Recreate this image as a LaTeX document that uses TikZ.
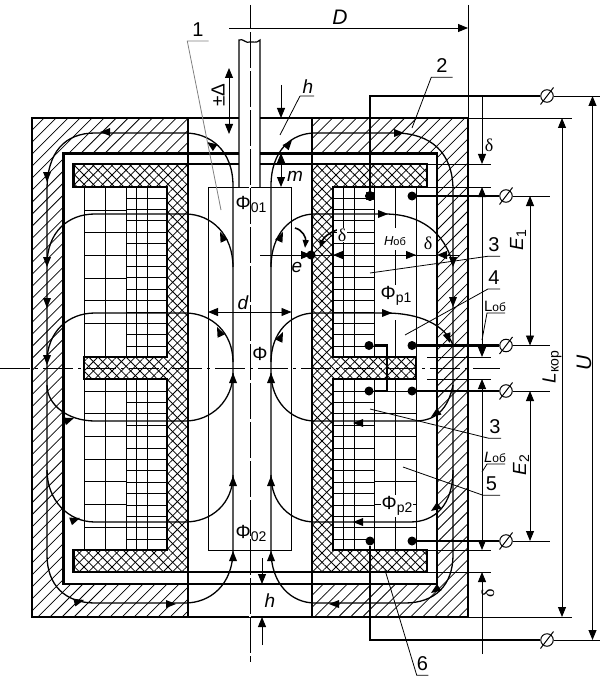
\documentclass[tikz,border=0pt]{standalone}
\usepackage{fontspec}
\setmainfont{Liberation Sans}
\newfontfamily\deltafont{Liberation Serif}
\usetikzlibrary{arrows.meta,patterns.meta,positioning}
\newcommand{\fluxtip}[3]{\fill[shift={(#1,#2)},rotate=#3] (0,0) -- (-10,4) -- (-10,-4) -- cycle;}
\newcommand{\lowtext}[1]{\raisebox{-3pt}{\fontsize{14}{14}\selectfont #1}}
\tikzset{
	body/.style={line width=2.7pt},
	heavy/.style={line width=2.2pt},
	wire/.style={line width=2.4pt},
	flux/.style={line width=1.3pt},
	thin line/.style={line width=.9pt},
	grid line/.style={line width=1pt},
	leader/.style={line width=.8pt},
	hatchfill/.style={pattern={Lines[angle=45,distance=8.5pt,line width=.75pt]}},
	crossa/.style={pattern={Lines[angle=45,distance=6.6pt,line width=.8pt]}},
	crossb/.style={pattern={Lines[angle=-45,distance=6.6pt,line width=.8pt]}},
	wiredot/.style={circle,fill,inner sep=0,minimum size=9pt},
	term/.style={circle,draw,line width=1pt,fill=white,inner sep=0,minimum size=12.5pt},
	numlab/.style={inner ysep=4pt,inner xsep=0,font=\fontsize{20}{22}\selectfont},
	lab/.style={inner sep=0,font=\fontsize{19}{20}\selectfont},
	itlab/.style={inner sep=0,font=\fontsize{19}{20}\selectfont\itshape},
	dlab/.style={inner sep=0,font=\fontsize{18}{20}\selectfont\deltafont},
	>={Triangle[length=10pt,width=8pt]}
}
\begin{document}
\begin{tikzpicture}[x=1pt,y=-1pt]
	\useasboundingbox (0,0) rectangle (600,679);
	% hatched housing
	\path[hatchfill] (32,118) -- (188,118) -- (188,153.5) -- (63.5,153.5) -- (63.5,584) -- (188,584) -- (188,617) -- (32,617) -- cycle;
	\path[hatchfill] (468,118) -- (312,118) -- (312,153.5) -- (437,153.5) -- (437,584) -- (312,584) -- (312,617) -- (468,617) -- cycle;
	% coils
	\foreach \x in {84,105,126,136.5,147,167} \draw[grid line] (\x,187) -- (\x,357) (\x,379) -- (\x,550);
	\foreach \x in {333,343.5,354,374,416} \draw[grid line] (\x,187) -- (\x,357) (\x,379) -- (\x,550);
	\draw[grid line] (395,187) -- (395,228) (395,250) -- (395,285) (395,320) -- (395,357) (395,379) -- (395,550);
	\foreach \k in {0,...,5} {
		\draw[grid line] (84,210+22.7*\k) -- (126,210+22.7*\k);
		\draw[grid line] (84,391+22.7*\k) -- (126,391+22.7*\k);
		\draw[grid line] (374,391+22.7*\k) -- (416,391+22.7*\k);
	}
	\draw[grid line] (84,527) -- (126,527) (374,527) -- (416,527);
	\foreach \k in {0,...,13} {
		\draw[grid line] (126,198+11.4*\k) -- (167,198+11.4*\k);
		\draw[grid line] (126,391+11.4*\k) -- (167,391+11.4*\k);
		\draw[grid line] (333,198+11.4*\k) -- (374,198+11.4*\k);
		\draw[grid line] (333,391+11.4*\k) -- (374,391+11.4*\k);
	}
	% spool
	\foreach \c in {crossa,crossb} {
		\path[\c] (73.5,164) -- (188,164) -- (188,572) -- (73.5,572) -- (73.5,550) -- (167,550) -- (167,379) -- (84,379) -- (84,357) -- (167,357) -- (167,187) -- (73.5,187) -- cycle;
		\path[\c] (427,164) -- (312,164) -- (312,572) -- (427,572) -- (427,550) -- (333,550) -- (333,379) -- (416,379) -- (416,357) -- (333,357) -- (333,187) -- (427,187) -- cycle;
	}
	\draw[heavy] (188,164) -- (73.5,164) -- (73.5,187) -- (167,187) -- (167,357) -- (84,357) -- (84,379) -- (167,379) -- (167,550) -- (73.5,550) -- (73.5,572) -- (188,572);
	\draw[heavy] (312,164) -- (427,164) -- (427,187) -- (333,187) -- (333,357) -- (416,357) -- (416,379) -- (333,379) -- (333,550) -- (427,550) -- (427,572) -- (312,572);
	\draw[heavy] (188,164) -- (239,164) (260,164) -- (312,164) (188,572) -- (312,572);
	% housing outline
	\draw[body] (188,118) -- (32,118) -- (32,617) -- (468,617) -- (468,118) -- (312,118);
	\draw[body] (188,118) -- (239,118) (260,118) -- (312,118);
	\draw[body] (239,153.5) -- (63.5,153.5) -- (63.5,584) -- (437,584) -- (437,153.5) -- (260,153.5);
	\draw[body] (188,118) -- (188,164) (312,118) -- (312,164);
	\draw[body] (188,572) -- (188,617) (312,572) -- (312,617);
	\draw[line width=1.8pt] (188,164) -- (188,572) (312,164) -- (312,572);
	% core and shaft
	\draw[line width=1pt] (208,187) rectangle (291.5,550);
	\draw[line width=1.2pt] (239,187) -- (239,40) .. controls (243,38) and (246,44) .. (250,42) .. controls (253,41) and (256,44) .. (260,40) -- (260,187);
	% flux lines, left
	\draw[flux] (233,550) -- (233,186) .. controls (233,150) and (210,133) .. (185,133) -- (95,133) .. controls (65,133) and (47,152) .. (47,190) -- (47,555) .. controls (47,585) and (65,603) .. (95,603) -- (185,603) .. controls (210,603) and (233,585) .. (233,550);
	\draw[flux] (233,267) .. controls (233,235) and (212,214) .. (185,214) -- (95,214) .. controls (68,214) and (47,232) .. (47,265);
	\draw[flux] (233,362) .. controls (233,333) and (212,313) .. (185,313) -- (95,313) .. controls (68,313) and (47,332) .. (47,362);
	\draw[flux] (233,373) .. controls (233,400) and (212,421) .. (185,421) -- (95,421) .. controls (68,421) and (47,405) .. (47,385);
	\draw[flux] (233,475) .. controls (233,503) and (212,522) .. (185,522) -- (95,522) .. controls (68,522) and (47,500) .. (47,470);
	% flux lines, right
	\draw[flux] (271,550) -- (271,186) .. controls (271,150) and (292,133) .. (315,133) -- (395,133) .. controls (430,133) and (453,152) .. (453,190) -- (453,555) .. controls (453,585) and (435,603) .. (405,603) -- (315,603) .. controls (292,603) and (271,585) .. (271,550);
	\draw[flux] (271,267) .. controls (271,235) and (290,214) .. (315,214) -- (385,214) .. controls (420,214) and (445,232) .. (453,265);
	\draw[flux] (271,362) .. controls (271,333) and (290,313) .. (315,313) -- (385,313) .. controls (420,313) and (445,325) .. (453,345);
	\draw[flux] (271,373) .. controls (271,400) and (290,421) .. (315,421) -- (415,421) .. controls (435,421) and (448,410) .. (453,385);
	\draw[flux] (271,475) .. controls (271,503) and (290,522) .. (315,522) -- (410,522) .. controls (435,522) and (453,505) .. (453,470);
	% flux arrows
	\foreach \x/\y/\a in {100/132/180,207/142/145,47/182/-90,47/267/-90,47/308/-90,47/365/-90,74/418/20,80/518/20,84/600/15,176/604/0,220/232/115,217/327/115,233/551/90,233/476/90,233/373/90,271/551/90,271/476/90,271/373/90,292/140/50,283/232/65,283/332/65,404/133/0,388/214/0,392/313/0,453/267/-90,453/307/-90,450/343/-70,353/423/180,353/522/180,329/604/180,431/417/215,431/511/215,431/593/215}
		\fluxtip{\x}{\y}{\a}
	% terminals and wires
	\node[wiredot] (w1) at (370,196) {};
	\node[wiredot] (w2) at (412,196) {};
	\node[wiredot] (w3) at (369,345.5) {};
	\node[wiredot] (w4) at (412,345.5) {};
	\node[wiredot] (w5) at (369,391) {};
	\node[wiredot] (w6) at (412,391) {};
	\node[wiredot] (w7) at (370,541) {};
	\node[wiredot] (w8) at (412,541) {};
	\node[term] (t1) at (547,96) {};
	\node[term] (t2) at (506,196) {};
	\node[term] (t3) at (506,345.5) {};
	\node[term] (t4) at (506,391) {};
	\node[term] (t5) at (506,541) {};
	\node[term] (t6) at (547,640) {};
	\coordinate (k1) at (387,345.5);
	\coordinate (k2) at (387,391);
	\draw[wire] (w1) |- (t1);
	\draw[wire] (w2) -- (t2);
	\draw[wire] (w3) -- (k1) -- (k2) -- (w5);
	\draw[wire] (w4) -- (t3);
	\draw[wire] (w6) -- (t4);
	\draw[wire] (w8) -- (t5);
	\draw[wire] (w7) |- (t6);
	\foreach \n/\r in {t1/600,t2/550,t3/550,t4/550,t5/550,t6/600} {
		\draw[thin line] (\n.east) -- (\r,0 |- \n.east);
		\draw[line width=1pt] ([shift={(-6.5,8.5)}]\n.center) -- ([shift={(6.5,-8.5)}]\n.center);
	}
	% dimensions
	\draw[thin line] (250,5) -- (250,662);
	\draw[white,line width=1.8pt,dash pattern=on 3pt off 36pt,dash phase=-24pt] (250,5) -- (250,662);
	\draw[thin line,dash pattern=on 30pt off 5pt on 3pt off 5pt] (0,368) -- (500,368);
	\draw[thin line] (468,5) -- (468,118);
	\draw[thin line,->] (229,28) -- (468,28);
	\draw[thin line,<->] (229,68) -- (229,134);
	\draw[thin line,->] (281,85) -- (281,118);
	\draw[thin line,<-] (281,153) -- (281,164);
	\draw[thin line,->] (281,164) -- (281,187);
	\draw[thin line,<->] (208,312) -- (291.5,312);
	\draw[thin line,->] (260,255) -- (311,255);
	\draw[thin line] (311,255) -- (437,255);
	\draw[thin line,->] (395,255) -- (416,255);
	\draw[thin line,->] (362,255) -- (333,255);
	\draw[thin line,->] (460,255) -- (437,255);
	\draw[line width=1.6pt,-{Triangle[length=8pt,width=6pt]}] (295,228) .. controls (303,230) and (306,238) .. (305,248);
	\draw[line width=1.6pt,-{Triangle[length=8pt,width=6pt]}] (337,230) .. controls (330,232) and (323,238) .. (320,248);
	\node[wiredot] (e0) at (311,255) {};
	\draw[thin line] (468,118) -- (572,118) (468,617) -- (572,617);
	\draw[thin line,<->] (562,118) -- (562,617);
	\draw[thin line,<->] (592.5,96) -- (592.5,640);
	\draw[thin line,<->] (530,196) -- (530,345.5);
	\draw[thin line,<->] (530,391) -- (530,541);
	\foreach \y in {164,187,357,379,550,572} \draw[thin line] (427,\y) -- (491,\y);
	\draw[thin line,->] (482,96) -- (482,164);
	\draw[thin line,<->] (482,187) -- (482,357);
	\draw[thin line,<->] (482,379) -- (482,550);
	\draw[thin line,->] (482,654) -- (482,572);
	\draw[thin line,->] (262,558) -- (262,584);
	\draw[thin line,->] (262,645) -- (262,617);
	% numbered leaders
	\node[numlab,minimum width=21pt] (n1) at (198,30) {1};
	\node[numlab,minimum width=21pt] (n2) at (442,66) {2};
	\node[numlab,minimum width=12pt] (n3) at (494,245) {3};
	\node[numlab,minimum width=12pt] (n4) at (494,278) {4};
	\node[numlab,minimum width=12pt] (n5) at (495,427) {3};
	\node[numlab,minimum width=17pt] (n6) at (491.5,484) {5};
	\node[numlab,minimum width=11pt] (n7) at (422.5,664) {6};
	\coordinate (p1) at (221,210);
	\coordinate (p2) at (412,128);
	\coordinate (p3) at (370,273);
	\coordinate (p4) at (405,335);
	\coordinate (p5) at (370,409);
	\coordinate (p6) at (403,467);
	\coordinate (p7) at (385,570);
	\draw[leader,gray] (n1.south east) -- (n1.south west) -- (p1);
	\draw[leader] (n2.south east) -- (n2.south west) -- (p2);
	\draw[leader] (n3.south east) -- (n3.south west) -- (p3);
	\draw[leader] (n4.south east) -- (n4.south west) -- (p4);
	\draw[leader] (n5.south east) -- (n5.south west) -- (p5);
	\draw[leader] (n6.south east) -- (n6.south west) -- (p6);
	\draw[leader] (n7.south east) -- (n7.south west) -- (p7);
	% labels
	\node[itlab,font=\fontsize{21}{22}\selectfont\itshape] (lD) at (340,17) {D};
	\node[itlab] (lh) at (308,87) {h};
	\draw[leader] (300,96) -- (314,96) (300,96) -- (280,135);
	\node[itlab] (lm) at (295,176) {m};
	\node[itlab] (lh2) at (270,601) {h};
	\node[itlab] (ld) at (243,303) {d};
	\node[itlab] (le) at (297,267) {e};
	\node[lab,rotate=90] (ldelta) at (218,95) {±Δ};
	\node[lab] (f1) at (251,204) {Φ\lowtext{01}};
	\node[lab] (f2) at (251,533) {Φ\lowtext{02}};
	\node[lab] (f0) at (260,354) {Φ};
	\node[lab,fill=white,inner sep=1pt] (fp1) at (396,296) {Φ\lowtext{p1}};
	\node[lab,fill=white,inner sep=1pt] (fp2) at (397,506) {Φ\lowtext{p2}};
	\node[inner sep=1pt,fill=white,font=\fontsize{13}{13}\selectfont] (hob) at (395,241) {\textit{H}{\fontsize{11}{11}\selectfont об}};
	\node[dlab,fill=white,inner sep=.5pt] (dl1) at (342,235) {δ};
	\node[dlab] (dl2) at (428,243) {δ};
	\node[dlab] (dl3) at (489,145) {δ};
	\node[dlab,rotate=90] (dl4) at (488,593) {δ};
	\node[inner sep=0,font=\fontsize{15}{15}\selectfont] (lo1) at (495,306) {L{\fontsize{12}{12}\selectfont об}};
	\node[inner sep=0,font=\fontsize{15}{15}\selectfont] (lo2) at (495,457) {\textit{L}{\fontsize{12}{12}\selectfont об}};
	\draw[leader] (505,313) -- (487,313) -- (482,340);
	\draw[leader] (505,464) -- (487,464) -- (482,472);
	\node[lab,rotate=90] (e1) at (518,240) {\textit{E}\lowtext{1}};
	\node[lab,rotate=90] (e2) at (521,465) {\textit{E}\lowtext{2}};
	\node[lab,rotate=90] (lk) at (552,367) {\textit{L}\lowtext{кор}};
	\node[itlab,rotate=90,font=\fontsize{21}{22}\selectfont\itshape] (lu) at (584,363) {U};
\end{tikzpicture}
\end{document}
